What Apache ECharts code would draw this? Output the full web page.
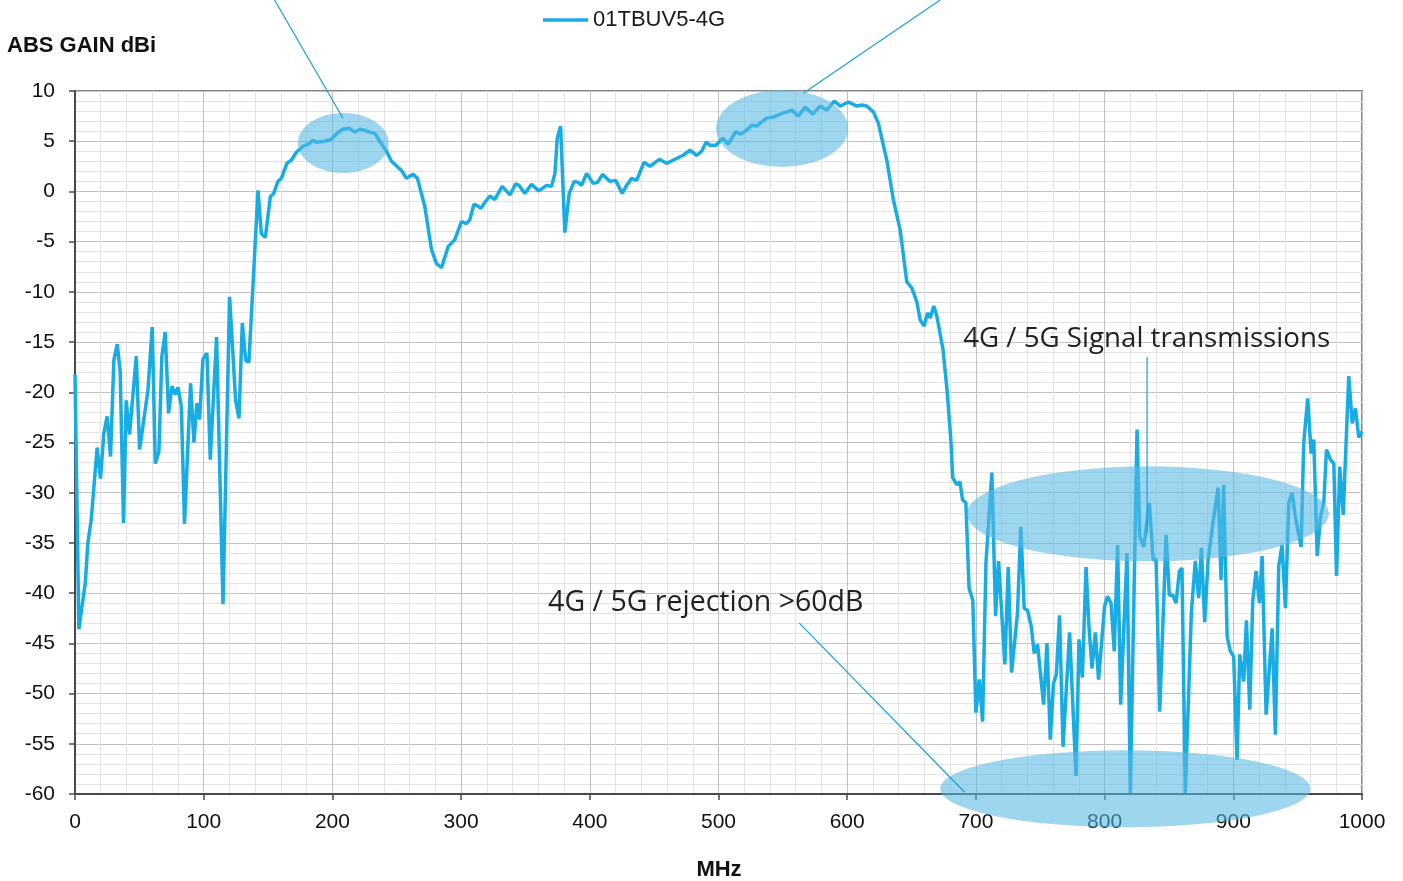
<!DOCTYPE html>
<html>
<head>
<meta charset="utf-8">
<script src="https://cdn.jsdelivr.net/npm/echarts@6/dist/echarts.min.js"></script>
<style>
html,body{margin:0;padding:0;background:#ffffff;}
#chart{width:1403px;height:881px;}
</style>
</head>
<body>
<div id="chart"></div>
<script>
// ---- data (MHz, dBi) ----
const seriesName = '01TBUV5-4G';
const freqMHz = [
  0,3,8,10,12.6,17.2,19.8,22.4,25,27.6,30.2,32.8,35.1,37.7,39.8,42.4,47.6,50.2,56.6,60,
  62.4,65.2,67.5,70.1,72.7,75.3,77.9,80,82.6,85.1,89.8,92.4,94.7,96.8,99.4,102.5,105.1,110,115,120.1,
  124.8,127.4,130,132.6,135.1,138.8,142.2,144.8,147.9,151.8,154.4,157.7,160.3,164.7,168.1,172,177.2,182.3,184.9,187.5,
  194,199.2,204.4,208.2,212.9,217.3,221.2,225.1,229,232.9,236.8,242,245.9,251,253.6,257.5,262.7,266.1,271.8,277,
  280.9,284.8,289.9,295.1,300.3,304.2,306.8,309.9,312.4,315.3,318.4,322.3,326.2,331.9,337.9,342.3,345.1,349.5,354.7,360.4,
  366.4,370.3,372.9,374.7,377.3,380.6,384,387.9,391,393.6,397.5,402.6,406,409.9,415.6,420.1,425.2,428.6,432.5,436.4,
  442.1,446.7,454,459.7,466.2,472.6,477.8,483,486.9,490.3,493.4,498,503.3,507.6,513.4,517.2,521.9,525.8,529.7,532.3,
  537.5,542.6,547.8,556.9,562.1,567.3,573.2,578.9,584.1,590,594.5,600.9,607.4,611.3,615.2,620.4,624.2,630.8,635.9,641.1,
  646.3,650.2,654.1,656.7,659.8,662.4,664.5,667.3,669.8,674.5,677.6,680.5,682,685.1,687.6,689.6,692.2,694.7,697.6,700,
  702.6,705.2,707.8,712.4,715.3,717.6,722.5,725.1,727.7,732.3,734.9,737.5,740.1,743,745.3,747.9,752.6,755.2,757.8,760.3,
  762.5,765,767.7,772.8,777.8,780.1,782.7,785.6,787.7,790.2,792.8,795.3,800,802.3,805,807.5,810.1,812.5,817.4,820,
  825.2,827.3,830.4,834.8,837.7,840,842.8,847.8,850.3,852.9,855.5,858.1,860.1,862.7,867.4,870.5,873.1,875.2,877.8,880.4,
  884.3,888.2,890.5,892.5,895.2,897.7,900.3,902.9,905,908.1,910.2,912.8,915.1,917.7,920.3,922.4,925.5,930.2,932.7,935.3,
  937.9,940.5,943.1,945.7,948.2,952.7,954.7,957.8,960.5,962.5,965.2,967.7,970.3,972.4,975.5,978.1,980.2,982.7,985.4,989.7,
  992.4,994.9,997.5,1000
];
const gainDbi = [
  -18.2,-43.6,-39.0,-35.0,-32.7,-25.5,-28.6,-24.1,-22.4,-26.4,-16.8,-15.2,-17.9,-33.0,-20.8,-24.2,-16.4,-25.7,-19.9,-13.5,
  -27.1,-25.9,-16.4,-14.0,-22.1,-19.4,-20.2,-19.5,-21.4,-33.1,-19.1,-25.0,-21.1,-22.7,-16.7,-16.1,-26.7,-14.5,-41.1,-10.5,
  -20.8,-22.6,-13.1,-16.8,-17.0,-8.1,0.1,-4.2,-4.6,-0.5,-0.2,1.0,1.3,2.8,3.1,3.9,4.5,4.8,5.1,4.9,
  5.0,5.2,5.9,6.2,6.3,5.9,6.2,6.1,5.9,5.8,5.0,4.0,3.0,2.4,2.1,1.3,1.7,1.3,-1.5,-5.8,
  -7.2,-7.6,-5.5,-4.8,-3.0,-3.2,-2.8,-1.3,-1.4,-1.7,-1.1,-0.45,-0.8,0.5,-0.35,0.74,0.6,-0.2,0.7,0.05,
  0.6,0.5,1.8,5.3,6.5,-4.1,-0.2,1.0,0.9,0.6,1.8,0.8,0.9,1.7,1.0,1.1,-0.2,0.6,1.3,1.1,
  2.9,2.5,3.2,2.8,3.2,3.6,4.1,3.6,4.0,4.9,4.6,4.6,5.3,4.7,5.95,5.7,6.1,6.6,6.5,6.8,
  7.3,7.4,7.7,8.1,7.5,8.4,7.7,8.5,8.1,9.0,8.5,8.9,8.5,8.6,8.5,7.9,6.8,3.1,-0.85,-3.8,
  -9.0,-9.6,-11.0,-12.8,-13.4,-12.1,-12.6,-11.4,-12.5,-15.8,-19.8,-24.7,-28.5,-29.2,-28.9,-30.7,-31.0,-39.5,-40.7,-51.9,
  -48.6,-52.8,-37.0,-28.0,-42.3,-36.8,-47.1,-37.4,-47.9,-42.0,-33.4,-41.5,-41.7,-43.3,-46.0,-45.1,-51.1,-45.0,-54.6,-49.0,
  -48.1,-42.2,-55.3,-43.9,-58.2,-44.6,-48.4,-37.4,-43.0,-47.5,-43.9,-48.6,-41.3,-40.3,-41.0,-45.8,-35.2,-51.1,-36.0,-59.9,
  -23.7,-34.4,-35.4,-31.0,-36.7,-36.6,-51.8,-34.2,-40.2,-40.2,-41.0,-37.8,-37.5,-59.9,-42.0,-36.8,-40.5,-35.5,-42.9,-36.7,
  -32.9,-29.5,-38.7,-29.2,-44.3,-45.8,-46.3,-56.6,-46.1,-48.8,-42.7,-51.6,-40.8,-37.8,-41.0,-36.3,-52.1,-43.5,-54.1,-37.3,
  -35.2,-41.5,-31.0,-30.0,-32.4,-35.4,-25.1,-20.6,-26.1,-24.7,-36.3,-32.4,-31.0,-25.7,-26.7,-27.1,-38.3,-27.4,-32.2,-18.4,
  -23.1,-21.6,-24.5,-23.9
];
const xAxisRange = [0, 1000];
const xTickStep = 100;
const yAxisRange = [-60, 10];
const yTickStep = 5;
const yAxisTitle = 'ABS GAIN dBi';
const xAxisTitle = 'MHz';

// ---- annotations (in data units: MHz, dBi) ----
const ellipses = [
  [208.4, 4.82, 35.4, 2.99],
  [549.4, 6.27, 51.3, 3.83],
  [833.6, -32.1, 140.7, 4.73],
  [816.1, -59.47, 143.9, 3.83]
];
const leaderLines = [
  [155.1, 19.06, 208.2, 7.28],
  [672.2, 19.06, 565.9, 9.77],
  [833.0, -16.45, 833.0, -34.0],
  [562.8, -42.98, 691.1, -59.8]
];
const noteTexts = [
  ['4G / 5G Signal transmissions', 690.1, -14.75, 27.7],
  ['4G / 5G rejection >60dB', 367.6, -40.96, 28.5]
];

const LINE_COLOR = '#17ace3';
const AX_FONT = '"Liberation Sans", Arial, sans-serif';

const chart = echarts.init(document.getElementById('chart'), null, {renderer: 'canvas'});
const seriesData = freqMHz.map((f, i) => [f, gainDbi[i]]);

const axisCommon = {
  type: 'value',
  axisLine: {show: true, onZero: false, lineStyle: {color: '#4a4a4a', width: 2}},
  axisTick: {show: true, inside: false, length: 6, lineStyle: {color: '#4a4a4a', width: 1.5}},
  splitLine: {show: true, lineStyle: {color: '#c2c2c2', width: 1}},
  minorTick: {show: false, splitNumber: 5},
  minorSplitLine: {show: true, lineStyle: {color: '#e3e3e3', width: 1}}
};

chart.setOption({
  animation: false,
  backgroundColor: '#ffffff',
  legend: {
    data: [seriesName],
    left: 543, top: 9, padding: 0,
    icon: 'rect',
    itemWidth: 45, itemHeight: 3.5,
    textStyle: {fontFamily: AX_FONT, fontSize: 22, color: '#1a1a1a'}
  },
  grid: {
    left: 75, top: 91, width: 1287, height: 703,
    show: true, borderColor: '#868686', borderWidth: 2,
    containLabel: false, outerBoundsMode: 'none'
  },
  xAxis: Object.assign({}, axisCommon, {
    min: xAxisRange[0], max: xAxisRange[1], interval: xTickStep,
    axisLabel: {fontFamily: AX_FONT, fontSize: 21, color: '#111111', margin: 18, formatter: v => String(v)}
  }),
  yAxis: Object.assign({}, axisCommon, {
    min: yAxisRange[0], max: yAxisRange[1], interval: yTickStep,
    axisLabel: {fontFamily: AX_FONT, fontSize: 21, color: '#111111', margin: 20, formatter: v => String(v)}
  }),
  series: [{
    name: seriesName,
    type: 'line',
    data: seriesData,
    symbol: 'none',
    showSymbol: false,
    smooth: false,
    lineStyle: {color: LINE_COLOR, width: 3.5},
    itemStyle: {color: LINE_COLOR},
    z: 3
  }]
});

function P(x, y) { return chart.convertToPixel({gridIndex: 0}, [x, y]); }

const g = [];
ellipses.forEach(e => {
  const c = P(e[0], e[1]);
  const ex = P(e[0] + e[2], e[1]);
  const ey = P(e[0], e[1] + e[3]);
  const rx = Math.abs(ex[0] - c[0]);
  const ry = Math.abs(c[1] - ey[1]);
  g.push({
    type: 'circle', x: c[0], y: c[1], scaleX: rx / ry, scaleY: 1,
    shape: {cx: 0, cy: 0, r: ry},
    style: {fill: 'rgba(88,184,228,0.58)'},
    z: 100, silent: true
  });
});
leaderLines.forEach(l => {
  const a = P(l[0], l[1]);
  const b = P(l[2], l[3]);
  g.push({
    type: 'line', shape: {x1: a[0], y1: a[1], x2: b[0], y2: b[1]},
    style: {stroke: '#1a9fd9', lineWidth: 1.2}, z: 101, silent: true
  });
});
noteTexts.forEach(t => {
  const p = P(t[1], t[2]);
  g.push({
    type: 'text', x: p[0], y: p[1],
    style: {text: t[0], fill: '#222222', font: t[3] + 'px "Open Sans", sans-serif', textAlign: 'left', textVerticalAlign: 'middle', verticalAlign: 'middle'},
    z: 102, silent: true
  });
});
g.push({
  type: 'text', x: 7, y: 46,
  style: {text: yAxisTitle, fill: '#111111', font: 'bold 22px "Liberation Sans", Arial, sans-serif', textAlign: 'left', verticalAlign: 'middle', textVerticalAlign: 'middle'},
  z: 102, silent: true
});
g.push({
  type: 'text', x: 719, y: 870,
  style: {text: xAxisTitle, fill: '#111111', font: 'bold 22px "Liberation Sans", Arial, sans-serif', textAlign: 'center', verticalAlign: 'middle', textVerticalAlign: 'middle'},
  z: 102, silent: true
});
chart.setOption({graphic: {elements: g}});
</script>
</body>
</html>
